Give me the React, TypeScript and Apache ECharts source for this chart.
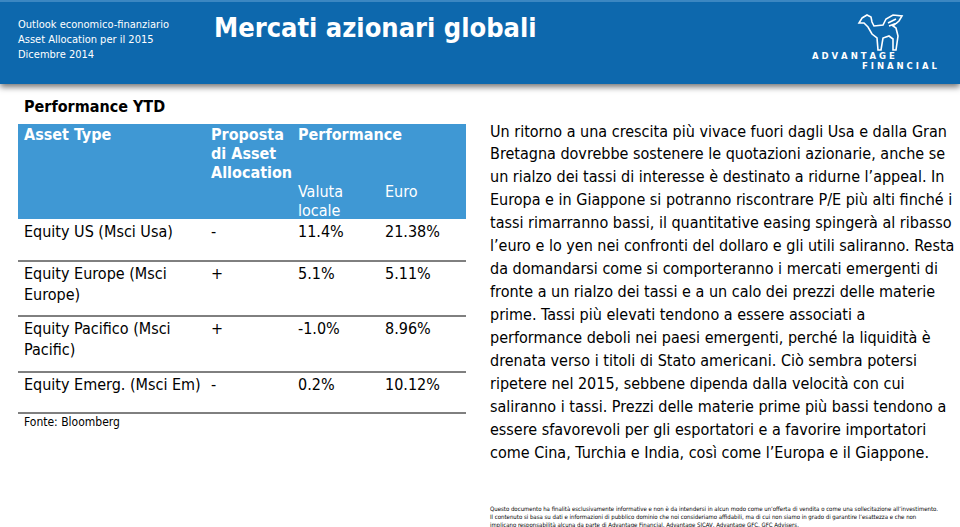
import React, { useEffect, useRef } from "react";
import * as echarts from "echarts";

const headerLines = ["Outlook economico-finanziario", "Asset Allocation per il 2015", "Dicembre 2014"];
const pageTitle = "Mercati azionari globali";
const tableTitle = "Performance YTD";
const colHeaders = ["Asset Type", "Proposta\ndi Asset\nAllocation", "Performance"];
const subHeaders = ["Valuta\nlocale", "Euro"];
const assetTypes = ["Equity US (Msci Usa)", "Equity Europe (Msci\nEurope)", "Equity Pacifico (Msci\nPacific)", "Equity Emerg. (Msci Em)"];
const proposals = ["-", "+", "+", "-"];
const localPerf = ["11.4%", "5.1%", "-1.0%", "0.2%"];
const euroPerf = ["21.38%", "5.11%", "8.96%", "10.12%"];
const source = "Fonte: Bloomberg";
const bodyLines = [
  "Un ritorno a una crescita più vivace fuori dagli Usa e dalla Gran",
  "Bretagna dovrebbe sostenere le quotazioni azionarie, anche se",
  "un rialzo dei tassi di interesse è destinato a ridurne l’appeal. In",
  "Europa e in Giappone si potranno riscontrare P/E più alti finché i",
  "tassi rimarranno bassi, il quantitative easing spingerà al ribasso",
  "l’euro e lo yen nei confronti del dollaro e gli utili saliranno. Resta",
  "da domandarsi come si comporteranno i mercati emergenti di",
  "fronte a un rialzo dei tassi e a un calo dei prezzi delle materie",
  "prime. Tassi più elevati tendono a essere associati a",
  "performance deboli nei paesi emergenti, perché la liquidità è",
  "drenata verso i titoli di Stato americani. Ciò sembra potersi",
  "ripetere nel 2015, sebbene dipenda dalla velocità con cui",
  "saliranno i tassi. Prezzi delle materie prime più bassi tendono a",
  "essere sfavorevoli per gli esportatori e a favorire importatori",
  "come Cina, Turchia e India, così come l’Europa e il Giappone.",
];
const disclaimerLines = [
  "Questo documento ha finalità esclusivamente informative e non è da intendersi in alcun modo come un’offerta di vendita o come una sollecitazione all’investimento.",
  "Il contenuto si basa su dati e informazioni di pubblico dominio che noi consideriamo affidabili, ma di cui non siamo in grado di garantire l’esattezza e che non",
  "implicano responsabilità alcuna da parte di Advantage Financial, Advantage SICAV, Advantage GFC, GFC Advisers.",
];
const logoWords = ["A D V A N T A G E", "F I N A N C I A L"];

const GRIFFIN =
  "M4,3 L9,0 L13,2 L14,7 L16,11 L25,10 L28,4 L35,0 L44,1 L41,6 L35,11 L38,13 L40,21 L38,35 L35,35 L35,24 L31,21 L25,23 L23,35 L20,35 L19,23 L14,19 L10,12 L6,8 L1,8 Z M30,8 L38,4 M31,11 L39,8";

const FONT = "'DejaVu Sans Condensed', 'DejaVu Sans', sans-serif";

export default function App() {
  const ref = useRef<HTMLDivElement>(null);
  useEffect(() => {
    if (!ref.current) return;
    try {
      echarts.graphic.registerShape("griffin", echarts.graphic.extendPath(GRIFFIN, {}) as any);
    } catch (e) {}
    const chart = echarts.init(ref.current, null, { renderer: "svg" });
    const els: any[] = [];
    const txt = (text: string, x: number, y: number, size: number, fill: string, weight = "normal", family = FONT, extra: any = {}) => {
      els.push({
        type: "text",
        x,
        y,
        style: { text, fill, fontSize: size, fontWeight: weight, fontFamily: family, verticalAlign: "middle", lineHeight: extra.lineHeight || size * 1.2, ...extra },
      });
    };
    // header bar
    els.push({ type: "rect", shape: { x: 0, y: 0, width: 960, height: 84 }, style: { fill: "#0a68ad", shadowBlur: 6, shadowOffsetY: 3, shadowColor: "rgba(0,0,0,0.55)" } });
    els.push({ type: "rect", shape: { x: 0, y: 0, width: 960, height: 2 }, style: { fill: "#3b87c2" } });
    headerLines.forEach((t, i) => txt(t, 18, 24 + i * 15, 11, "#ffffff"));
    txt(pageTitle, 214, 27, 27, "#ffffff", "bold");
    // logo
    els.push({ type: "griffin", x: 858, y: 15, scaleX: 1, scaleY: 1, style: { fill: "none", stroke: "#ffffff", lineWidth: 1.6 } });
    txt(logoWords[0], 812, 56, 8.5, "#ffffff", "bold", "'DejaVu Sans', sans-serif");
    txt(logoWords[1], 862, 66, 8.5, "#ffffff", "bold", "'DejaVu Sans', sans-serif");

    // table
    txt(tableTitle, 24, 106, 16, "#000000", "bold");
    els.push({ type: "rect", shape: { x: 18, y: 124, width: 448, height: 95 }, style: { fill: "#3f98d4" } });
    txt(colHeaders[0], 24, 134, 16, "#ffffff", "bold");
    txt(colHeaders[1], 211, 125, 16, "#ffffff", "bold", FONT, { verticalAlign: "top", lineHeight: 19 });
    txt(colHeaders[2], 298, 134, 16, "#ffffff", "bold");
    txt(subHeaders[0], 298, 182, 16, "#ffffff", "normal", FONT, { verticalAlign: "top", lineHeight: 19 });
    txt(subHeaders[1], 385, 191, 16, "#ffffff");
    const rowTops = [220, 262, 317, 373];
    const lines = [261, 316, 372, 413];
    rowTops.forEach((top, i) => {
      const y = top + 1;
      const o = { verticalAlign: "top", lineHeight: 21 };
      txt(assetTypes[i], 24, y, 16, "#000000", "normal", FONT, o);
      txt(proposals[i], 211, y, 16, "#000000", "normal", FONT, o);
      txt(localPerf[i], 298, y, 16, "#000000", "normal", FONT, o);
      txt(euroPerf[i], 385, y, 16, "#000000", "normal", FONT, o);
    });
    lines.forEach((ly) => els.push({ type: "line", shape: { x1: 18, y1: ly, x2: 466, y2: ly }, style: { stroke: "#000000", lineWidth: 1 } }));
    txt(source, 24, 422, 12, "#000000");

    // body text
    bodyLines.forEach((t, i) => txt(t, 490, 131 + i * 22.93, 16, "#000000"));
    disclaimerLines.forEach((t, i) => txt(t, 490, 508 + i * 8, 6, "#000000"));

    chart.setOption({ animation: false, graphic: { elements: els } });
    return () => chart.dispose();
  }, []);
  return <div ref={ref} style={{ position: "fixed", left: 0, top: 0, width: 960, height: 527, background: "#ffffff" }} />;
}
